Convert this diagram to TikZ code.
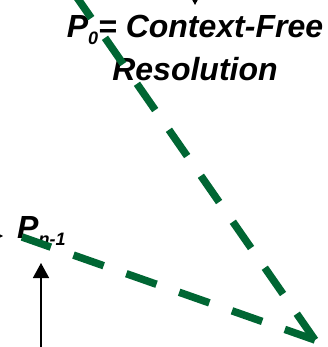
\documentclass[tikz,border=0pt]{standalone}
\usepackage{fontspec}
\setmainfont{Liberation Sans}
\usetikzlibrary{arrows.meta}

\definecolor{pathgreen}{RGB}{0,102,51}

\tikzset{
  greendash/.style={draw=pathgreen, line width=7.5pt, dash pattern=on 32pt off 24pt},
  blackarrow/.style={draw=black, line width=1.5pt, -{Triangle[width=16pt,length=15pt]}},
  biglabel/.style={font=\fontsize{32}{43}\selectfont\bfseries\itshape, inner sep=0pt}
}

\newcommand{\lowsub}[1]{\raisebox{-7pt}{\fontsize{18}{18}\selectfont #1}}

\begin{document}
\begin{tikzpicture}[x=1pt,y=-1pt]

\clip (0,0) rectangle (327,347);

% labels
\node[biglabel, anchor=base west] (pprev) at (17,238) {P\lowsub{n-1}};
\node[biglabel, align=center, anchor=north] (pzero) at (195,15)
    {P\lowsub{0}= Context-Free\\Resolution};

% end points of the paths
\coordinate (merge) at (315,340);
\coordinate (topend) at (53,-37);
\coordinate (prevstart) at (22,237);

% arrows coming in
\coordinate (abovefrom) at (195,-60);
\coordinate (aboveto) at (195,5);
\coordinate (leftfrom) at (-60,236);
\coordinate (leftto) at (3,236);
\coordinate (belowfrom) at (41,380);
\coordinate (belowto) at (41,263);
\draw[blackarrow] (abovefrom) -- (aboveto);
\draw[blackarrow] (leftfrom) -- (leftto);
\draw[blackarrow] (belowfrom) -- (belowto);

% dashed green paths
\draw[greendash] (merge) -- (topend);
\draw[greendash] (merge) -- (prevstart);

\end{tikzpicture}
\end{document}
